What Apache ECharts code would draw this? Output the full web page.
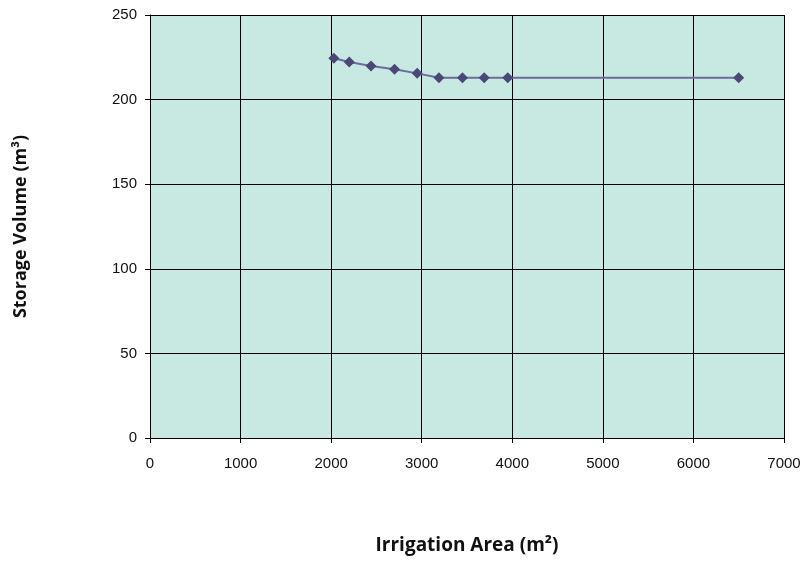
<!DOCTYPE html>
<html>
<head>
<meta charset="utf-8">
<script src="https://cdn.jsdelivr.net/npm/echarts@6/dist/echarts.min.js"></script>
<style>html,body{margin:0;padding:0;background:#fff;}#c{width:805px;height:580px;}</style>
</head>
<body>
<div id="c"></div>
<script>
const areaValues = [2030, 2200, 2440, 2700, 2950, 3190, 3450, 3690, 3950, 6500];
const volumeValues = [224.4, 222.2, 219.9, 217.9, 215.5, 212.9, 212.9, 212.9, 212.9, 212.9];
const xTitle = 'Irrigation Area (m²)';
const yTitle = 'Storage Volume (m³)';

const chart = echarts.init(document.getElementById('c'));
chart.setOption({
  animation: false,
  backgroundColor: '#ffffff',
  grid: {left: 150, top: 15, right: 21, bottom: 142, show: true, backgroundColor: '#C8E8E2', borderWidth: 0},
  xAxis: {
    type: 'value', min: 0, max: 7000, interval: 1000,
    name: xTitle, nameLocation: 'middle', nameGap: 98,
    nameTextStyle: {fontFamily: 'Open Sans', fontWeight: 'bold', fontSize: 19, color: '#111'},
    axisLine: {show: true, lineStyle: {color: '#000', width: 1}},
    axisTick: {show: true, inside: false, length: 5, lineStyle: {color: '#000'}},
    axisLabel: {fontFamily: 'Liberation Sans', fontSize: 15, color: '#111', margin: 18, formatter: v => String(v)},
    splitLine: {show: true, lineStyle: {color: '#000', width: 1}}
  },
  yAxis: {
    type: 'value', min: 0, max: 250, interval: 50,
    name: yTitle, nameLocation: 'middle', nameGap: 120,
    nameTextStyle: {fontFamily: 'Open Sans', fontWeight: 'bold', fontSize: 18, color: '#111'},
    axisLine: {show: true, lineStyle: {color: '#000', width: 1}},
    axisTick: {show: true, inside: false, length: 5, lineStyle: {color: '#000'}},
    axisLabel: {fontFamily: 'Liberation Sans', fontSize: 15, color: '#111', margin: 13, formatter: v => String(v)},
    splitLine: {show: true, lineStyle: {color: '#000', width: 1}}
  },
  series: [{
    type: 'line',
    data: areaValues.map((a, i) => [a, volumeValues[i]]),
    symbol: 'diamond', symbolSize: 11,
    itemStyle: {color: '#4B4878'},
    lineStyle: {color: '#6B6C9C', width: 2}
  }]
});
</script>
</body>
</html>
